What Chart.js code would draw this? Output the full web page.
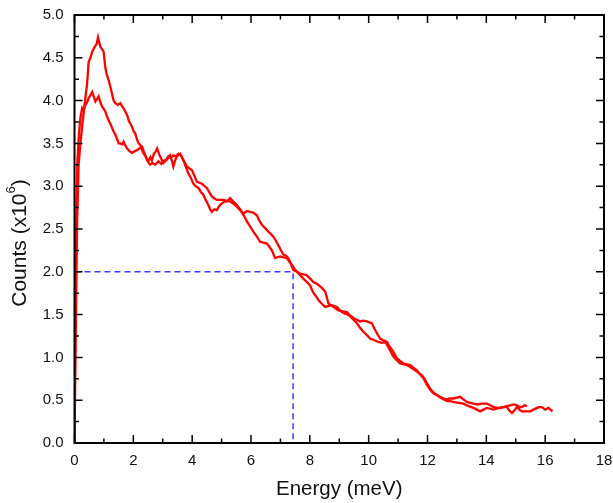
<!DOCTYPE html>
<html>
<head>
<meta charset="utf-8">
<script src="https://cdn.jsdelivr.net/npm/chart.js@4"></script>
<style>
  html, body { margin: 0; padding: 0; background: #fff; }
  #wrap { width: 613px; height: 503px; }
</style>
</head>
<body>
<div id="wrap"><canvas id="chart" width="613" height="503"></canvas></div>
<script>
// curve with the higher peak (ends near 15.4 meV)
const energyA = [0, 0.04, 0.09, 0.14, 0.2, 0.26, 0.35, 0.43, 0.48, 0.54, 0.6, 0.69, 0.75, 0.8, 0.84, 0.88, 0.94, 0.99,
  1.05, 1.1, 1.16, 1.22, 1.28, 1.33, 1.39, 1.47, 1.56, 1.62, 1.67, 1.73, 1.79, 1.85, 1.9, 1.96, 2.01, 2.06, 2.13,
  2.18, 2.24, 2.3, 2.35, 2.4, 2.47, 2.57, 2.66, 2.74, 2.85, 2.95, 3.05, 3.14, 3.25, 3.31, 3.36, 3.42, 3.48, 3.59,
  3.65, 3.7, 3.78, 3.87, 3.95, 4.04, 4.12, 4.21, 4.3, 4.38, 4.46, 4.55, 4.61, 4.67, 4.75, 4.84, 4.92, 5.01, 5.1,
  5.18, 5.29, 5.4, 5.52, 5.63, 5.74, 5.86, 5.97, 6.08, 6.2, 6.28, 6.37, 6.48, 6.59, 6.68, 6.76, 6.85, 6.93, 7.02,
  7.1, 7.18, 7.27, 7.35, 7.44, 7.56, 7.67, 7.78, 7.9, 8.01, 8.12, 8.24, 8.35, 8.44, 8.52, 8.58, 8.63, 8.72, 8.8,
  8.88, 8.97, 9.1, 9.26, 9.37, 9.48, 9.6, 9.71, 9.82, 9.94, 10.02, 10.11, 10.16, 10.22, 10.3, 10.39, 10.5, 10.62,
  10.7, 10.79, 10.88, 10.96, 11.07, 11.18, 11.3, 11.41, 11.52, 11.64, 11.75, 11.86, 11.98, 12.1, 12.2, 12.32,
  12.43, 12.55, 12.66, 12.77, 12.88, 13.0, 13.11, 13.22, 13.34, 13.45, 13.56, 13.7, 13.85, 14.02, 14.13, 14.24,
  14.4, 14.58, 14.7, 14.81, 14.92, 15.04, 15.13, 15.21, 15.3, 15.38];
const countsA = [0, 1.2, 2.6, 3.25, 3.5, 3.7, 3.98, 4.2, 4.45, 4.5, 4.57, 4.63, 4.66, 4.74, 4.68, 4.63, 4.6, 4.57,
  4.38, 4.3, 4.24, 4.16, 4.07, 4.0, 3.97, 3.95, 3.97, 3.93, 3.91, 3.87, 3.83, 3.76, 3.73, 3.69, 3.64, 3.62, 3.54,
  3.5, 3.48, 3.42, 3.38, 3.36, 3.3, 3.25, 3.27, 3.25, 3.29, 3.26, 3.3, 3.31, 3.36, 3.3, 3.23, 3.3, 3.35, 3.38,
  3.34, 3.31, 3.23, 3.15, 3.1, 3.03, 3.0, 2.98, 2.93, 2.9, 2.84, 2.78, 2.73, 2.7, 2.73, 2.72, 2.77, 2.8, 2.82,
  2.82, 2.86, 2.82, 2.78, 2.73, 2.68, 2.71, 2.7, 2.69, 2.66, 2.6, 2.55, 2.51, 2.47, 2.44, 2.41, 2.36, 2.31, 2.25,
  2.2, 2.19, 2.16, 2.1, 2.02, 2.0, 1.98, 1.97, 1.96, 1.92, 1.88, 1.86, 1.83, 1.8, 1.77, 1.7, 1.63, 1.61, 1.59,
  1.57, 1.55, 1.54, 1.53, 1.49, 1.46, 1.44, 1.42, 1.43, 1.42, 1.41, 1.4, 1.36, 1.32, 1.27, 1.22, 1.2, 1.18,
  1.13, 1.09, 1.04, 0.99, 0.96, 0.93, 0.92, 0.91, 0.88, 0.85, 0.8, 0.76, 0.68, 0.62, 0.58, 0.56,
  0.54, 0.52, 0.51, 0.52, 0.52, 0.53, 0.54, 0.51, 0.48, 0.47, 0.46, 0.45, 0.46, 0.46, 0.44, 0.42,
  0.41, 0.42, 0.43, 0.44, 0.45, 0.44, 0.42, 0.42, 0.44, 0.43];

// curve with the lower peak (runs out to about 16.3 meV)
const energyB = [0, 0.03, 0.06, 0.1, 0.15, 0.2, 0.26, 0.31, 0.37, 0.43, 0.48, 0.54, 0.6, 0.66, 0.71, 0.77, 0.82, 0.88,
  0.94, 1.0, 1.05, 1.1, 1.16, 1.22, 1.28, 1.33, 1.39, 1.45, 1.5, 1.55, 1.62, 1.67, 1.72, 1.79, 1.87, 1.96, 2.05,
  2.12, 2.2, 2.3, 2.36, 2.41, 2.46, 2.52, 2.58, 2.63, 2.7, 2.75, 2.81, 2.87, 2.92, 3.02, 3.1, 3.19, 3.28, 3.36,
  3.45, 3.53, 3.62, 3.7, 3.76, 3.82, 3.9, 3.99, 4.08, 4.16, 4.25, 4.33, 4.42, 4.5, 4.58, 4.67, 4.75, 4.84, 4.95,
  5.06, 5.18, 5.29, 5.38, 5.46, 5.55, 5.63, 5.75, 5.86, 5.97, 6.08, 6.2, 6.31, 6.42, 6.54, 6.63, 6.71, 6.77, 6.82,
  6.9, 6.99, 7.1, 7.22, 7.3, 7.39, 7.47, 7.56, 7.67, 7.78, 7.9, 8.01, 8.07, 8.15, 8.24, 8.29, 8.4, 8.52, 8.63,
  8.75, 8.83, 8.92, 9.0, 9.09, 9.2, 9.3, 9.37, 9.48, 9.6, 9.7, 9.82, 9.94, 10.05, 10.2, 10.33, 10.45, 10.56,
  10.62, 10.67, 10.75, 10.84, 10.95, 11.07, 11.18, 11.3, 11.45, 11.58, 11.7, 11.81, 11.9, 11.98, 12.1, 12.2,
  12.32, 12.43, 12.55, 12.66, 12.77, 12.88, 13.05, 13.22, 13.4, 13.56, 13.68, 13.79, 13.9, 14.02, 14.13, 14.24,
  14.35, 14.47, 14.6, 14.7, 14.78, 14.87, 14.95, 15.04, 15.12, 15.21, 15.35, 15.49, 15.6, 15.72, 15.8, 15.89,
  16.0, 16.11, 16.18, 16.25];
const countsB = [0, 1.6, 2.6, 3.3, 3.6, 3.8, 3.91, 3.88, 3.95, 3.98, 4.03, 4.06, 4.1, 4.04, 3.99, 4.02, 4.05, 3.98,
  3.93, 3.9, 3.87, 3.82, 3.77, 3.73, 3.68, 3.64, 3.6, 3.55, 3.5, 3.5, 3.49, 3.52, 3.48, 3.44, 3.41, 3.39, 3.41,
  3.42, 3.44, 3.46, 3.4, 3.36, 3.32, 3.3, 3.34, 3.3, 3.38, 3.4, 3.44, 3.38, 3.34, 3.27, 3.3, 3.35, 3.33, 3.36,
  3.35, 3.38, 3.36, 3.3, 3.27, 3.23, 3.21, 3.19, 3.12, 3.05, 3.04, 3.03, 3.0, 2.98, 2.93, 2.88, 2.86, 2.84, 2.84,
  2.84, 2.83, 2.82, 2.8, 2.78, 2.75, 2.72, 2.66, 2.59, 2.53, 2.47, 2.41, 2.35, 2.34, 2.33, 2.29, 2.25, 2.2, 2.16,
  2.17, 2.18, 2.17, 2.16, 2.12, 2.08, 2.04, 2.0, 1.96, 1.92, 1.88, 1.84, 1.79, 1.74, 1.7, 1.67, 1.63, 1.59, 1.6,
  1.61, 1.6, 1.59, 1.56, 1.53, 1.51, 1.5, 1.48, 1.44, 1.4, 1.35, 1.3, 1.26, 1.22, 1.2, 1.18, 1.17, 1.18,
  1.15, 1.12, 1.07, 1.01, 0.97, 0.93, 0.92, 0.91, 0.88, 0.85, 0.82, 0.79, 0.75, 0.7, 0.63, 0.59,
  0.56, 0.53, 0.51, 0.49, 0.49, 0.48, 0.47, 0.46, 0.43, 0.41, 0.39, 0.37, 0.39, 0.41, 0.4, 0.39,
  0.4, 0.41, 0.42, 0.42, 0.38, 0.35, 0.38, 0.42, 0.39, 0.37, 0.37, 0.37, 0.39, 0.41, 0.42, 0.42,
  0.39, 0.41, 0.39, 0.37];

// blue dashed guide at 2.0 counts
const guideEnergy = [0, 7.43, 7.43];
const guideCounts = [2.0, 2.0, 0];

const xTicks = [0, 2, 4, 6, 8, 10, 12, 14, 16, 18];
const yTicks = [0, 0.5, 1, 1.5, 2, 2.5, 3, 3.5, 4, 4.5, 5];

const toPoints = (xs, ys) => xs.map((x, i) => ({ x: x, y: ys[i] }));
const FONT = 'Arial, "Liberation Sans", sans-serif';

// box frame with inward ticks on all four sides + y title with superscript
const framePlugin = {
    id: 'frame',
    afterDraw(chart) {
        const ctx = chart.ctx;
        const area = chart.chartArea;
        const xs = chart.scales.x;
        const ys = chart.scales.y;
        ctx.save();
        ctx.strokeStyle = '#000';
        ctx.lineWidth = 1.5;
        ctx.beginPath();
        for (let v = 0; v <= 18; v += 1) {
            const px = xs.getPixelForValue(v);
            const len = v % 2 === 0 ? 8 : 4.5;
            ctx.moveTo(px, area.bottom); ctx.lineTo(px, area.bottom - len);
            ctx.moveTo(px, area.top); ctx.lineTo(px, area.top + len);
        }
        for (let v = 0; v <= 5.001; v += 0.25) {
            const py = ys.getPixelForValue(v);
            const len = Math.round(v * 4) % 2 === 0 ? 8 : 4.5;
            ctx.moveTo(area.left, py); ctx.lineTo(area.left + len, py);
            ctx.moveTo(area.right, py); ctx.lineTo(area.right - len, py);
        }
        ctx.stroke();
        ctx.lineWidth = 2;
        ctx.strokeRect(area.left, area.top, area.right - area.left, area.bottom - area.top);

        // y axis title
        ctx.translate(20, 243);
        ctx.rotate(-Math.PI / 2);
        ctx.fillStyle = '#111';
        ctx.textBaseline = 'middle';
        ctx.textAlign = 'left';
        const main = 'Counts (x10';
        ctx.font = '21px ' + FONT;
        const w1 = ctx.measureText(main).width;
        const w3 = ctx.measureText(')').width;
        ctx.font = '13px ' + FONT;
        const w2 = ctx.measureText('6').width;
        const x0 = -(w1 + w2 + w3) / 2;
        ctx.font = '21px ' + FONT;
        ctx.fillText(main, x0, 0);
        ctx.fillText(')', x0 + w1 + w2, 0);
        ctx.font = '13px ' + FONT;
        ctx.fillText('6', x0 + w1, -9);
        ctx.restore();
    }
};

const lineStyle = {
    showLine: true,
    borderColor: '#ff0000',
    borderWidth: 2.3,
    pointRadius: 0,
    tension: 0
};

new Chart(document.getElementById('chart').getContext('2d'), {
    type: 'scatter',
    data: {
        datasets: [
            Object.assign({ data: toPoints(energyA, countsA) }, lineStyle),
            Object.assign({ data: toPoints(energyB, countsB) }, lineStyle),
            {
                data: toPoints(guideEnergy, guideCounts),
                showLine: true,
                borderColor: '#3b3bff',
                borderWidth: 1.5,
                borderDash: [6, 4],
                pointRadius: 0,
                tension: 0
            }
        ]
    },
    options: {
        responsive: false,
        animation: false,
        events: [],
        layout: { padding: { top: 15, right: 9, left: 0, bottom: 0 } },
        plugins: {
            legend: { display: false },
            tooltip: { enabled: false }
        },
        scales: {
            x: {
                type: 'linear',
                min: 0,
                max: 18,
                afterBuildTicks: (scale) => { scale.ticks = xTicks.map(v => ({ value: v })); },
                afterFit: (scale) => {
                    scale.height = 60;
                    scale.paddingLeft = 0;
                    scale.paddingRight = 0;
                },
                grid: { display: false, drawTicks: false },
                border: { display: false },
                ticks: {
                    padding: 9,
                    color: '#111',
                    font: { family: FONT, size: 15 },
                    callback: (v) => String(v)
                },
                title: {
                    display: true,
                    text: 'Energy (meV)',
                    color: '#111',
                    font: { family: FONT, size: 20.5 },
                    padding: { top: 6, bottom: 1 }
                }
            },
            y: {
                type: 'linear',
                min: 0,
                max: 5,
                afterBuildTicks: (scale) => { scale.ticks = yTicks.map(v => ({ value: v })); },
                afterFit: (scale) => {
                    scale.width = 74.5;
                    scale.paddingTop = 0;
                    scale.paddingBottom = 0;
                },
                grid: { display: false, drawTicks: false },
                border: { display: false },
                ticks: {
                    padding: 11,
                    color: '#111',
                    font: { family: FONT, size: 15 },
                    callback: (v) => Number(v).toFixed(1)
                }
            }
        }
    },
    plugins: [framePlugin]
});
</script>
</body>
</html>
